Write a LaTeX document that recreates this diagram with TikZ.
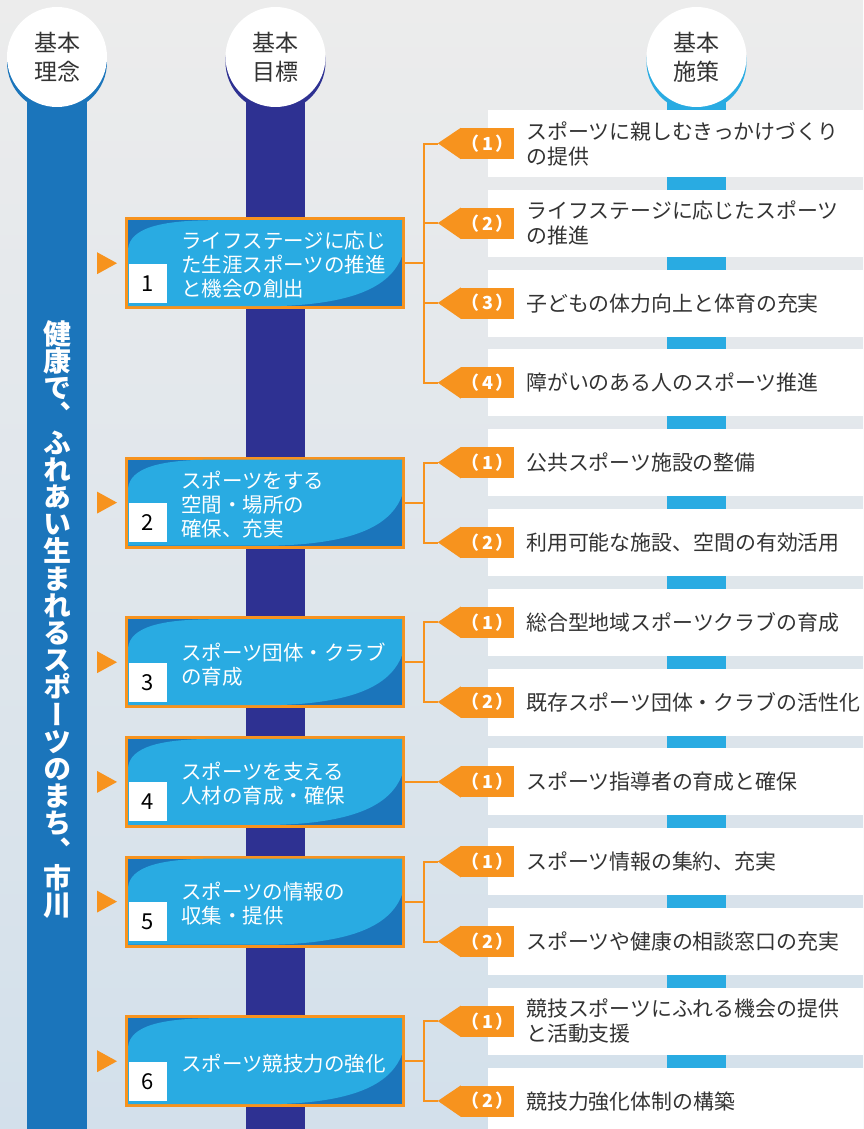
\documentclass[tikz,border=0pt]{standalone}
\usepackage{fontspec}
\setmainfont{Noto Sans CJK JP}
\newfontfamily\cjkv[RawFeature=+vert]{Noto Sans CJK JP}
\definecolor{bgtop}{HTML}{ECECEC}
\definecolor{bgbot}{HTML}{D3E0EB}
\definecolor{colA}{HTML}{1B75BB}
\definecolor{colB}{HTML}{2E3192}
\definecolor{colC}{HTML}{29ABE2}
\definecolor{orng}{HTML}{F7931E}
\definecolor{txt}{HTML}{333333}
\tikzset{
  hdr/.style={circle, fill=white, minimum size=100pt, inner sep=0pt, align=center,
    text=txt, font=\fontsize{23}{29}\selectfont},
  goal/.style={rectangle, draw=orng, line width=3pt, fill=colA, minimum width=277pt,
    minimum height=89pt, inner sep=0pt},
  goaltext/.style={anchor=west, inner sep=0pt, align=left, text=white,
    font=\fontsize{20.5}{24}\selectfont},
  numbox/.style={rectangle, fill=white, minimum width=38pt, minimum height=39pt,
    inner sep=0pt, text=black, font=\fontsize{22}{22}\selectfont},
  tag/.style={rectangle, fill=orng, minimum width=51pt, minimum height=31pt,
    inner sep=0pt, text=white, font=\bfseries\fontsize{18}{18}\selectfont},
  item/.style={anchor=west, inner sep=0pt, align=left, text=txt,
    font=\fontsize{20.9}{25}\selectfont},
  conn/.style={draw=orng, line width=2pt},
  vtext/.style={inner sep=0pt, align=center, text=white,
    font=\cjkv\bfseries\fontsize{28}{27.2}\selectfont}
}
\newcommand\goalbox[4]{%
  \node[goal] (#1) at (265,#2) {};
  \fill[colC] (128,#2-14) .. controls (130,#2-35) and (160,#2-43) .. (215,#2-43)
    -- (402,#2-43) -- (402,#2-7) .. controls (390,#2+25) and (350,#2+41) .. (275,#2+43)
    -- (128,#2+43) -- cycle;
  \node[numbox] (#1num) at (148,#2+20) {#3};
  \node[goaltext] (#1txt) at (181,#2+2) {#4};
  \fill[orng] (97,#2-11) -- (117,#2) -- (97,#2+11) -- cycle;
}
\newcommand\shisaku[4]{%
  \node[tag] (#1) at (487.5,#2) {（\hspace{3pt}#3\hspace{3pt}）};
  \fill[orng] (#1.north west) -- ++(-23,15.5) -- (#1.south west) -- cycle;
  \coordinate (#1tip) at ([xshift=-23pt]#1.west);
  \node[item] (#1txt) at (526,#2) {#4};
}
\begin{document}
\begin{tikzpicture}[x=1pt,y=-1pt]
\useasboundingbox (0,0) rectangle (863,1129);
\clip (0,0) rectangle (863,1129);
\shade[top color=bgtop, bottom color=bgbot] (0,0) rectangle (863,1129);
% columns
\fill[colA] (27,57) rectangle (87,1129);
\fill[colB] (246,57) rectangle (305,1129);
\fill[colC] (667,57) rectangle (726,1129);
% header circles
\fill[colA] (57,62) circle[radius=50pt];
\fill[colB] (275.5,62) circle[radius=50pt];
\fill[colC] (696.5,62) circle[radius=50pt];
\node[hdr] (h1) at (57,57) {基本\\理念};
\node[hdr] (h2) at (275.5,57) {基本\\目標};
\node[hdr] (h3) at (696.5,57) {基本\\施策};
% white rows
\foreach \k in {0,...,12} {
  \fill[white] (488,110+\k*79.8) rectangle (863,177+\k*79.8);
}
% motto
\node[vtext] (motto) at (57,619.5) {健\\康\\で\\、\\ふ\\れ\\あ\\い\\生\\ま\\れ\\る\\ス\\ポ\\ー\\ツ\\の\\ま\\ち\\、\\市\\川};
% goals
\goalbox{g1}{263.2}{1}{ライフステージに応じ\\た生涯スポーツの推進\\と機会の創出}
\goalbox{g2}{502.6}{2}{スポーツをする\\空間・場所の\\確保、充実}
\goalbox{g3}{662.2}{3}{スポーツ団体・クラブ\\の育成}
\goalbox{g4}{781.9}{4}{スポーツを支える\\人材の育成・確保}
\goalbox{g5}{901.6}{5}{スポーツの情報の\\収集・提供}
\goalbox{g6}{1061.2}{6}{スポーツ競技力の強化}
% measures
\shisaku{t11}{143.5}{1}{スポーツに親しむきっかけづくり\\の提供}
\shisaku{t12}{223.3}{2}{ライフステージに応じたスポーツ\\の推進}
\shisaku{t13}{303.1}{3}{子どもの体力向上と体育の充実}
\shisaku{t14}{382.9}{4}{障がいのある人のスポーツ推進}
\shisaku{t21}{462.7}{1}{公共スポーツ施設の整備}
\shisaku{t22}{542.5}{2}{利用可能な施設、空間の有効活用}
\shisaku{t31}{622.3}{1}{総合型地域スポーツクラブの育成}
\shisaku{t32}{702.1}{2}{既存スポーツ団体・クラブの活性化}
\shisaku{t41}{781.9}{1}{スポーツ指導者の育成と確保}
\shisaku{t51}{861.7}{1}{スポーツ情報の集約、充実}
\shisaku{t52}{941.5}{2}{スポーツや健康の相談窓口の充実}
\shisaku{t61}{1021.3}{1}{競技スポーツにふれる機会の提供\\と活動支援}
\shisaku{t62}{1101.1}{2}{競技力強化体制の構築}
% connectors
\foreach \g/\t in {g1/t11, g1/t12, g1/t13, g1/t14, g2/t21, g2/t22, g3/t31, g3/t32,
                   g4/t41, g5/t51, g5/t52, g6/t61, g6/t62} {
  \draw[conn] (\g.east) -- ++(19,0) |- (\t tip);
}
\end{tikzpicture}
\end{document}
